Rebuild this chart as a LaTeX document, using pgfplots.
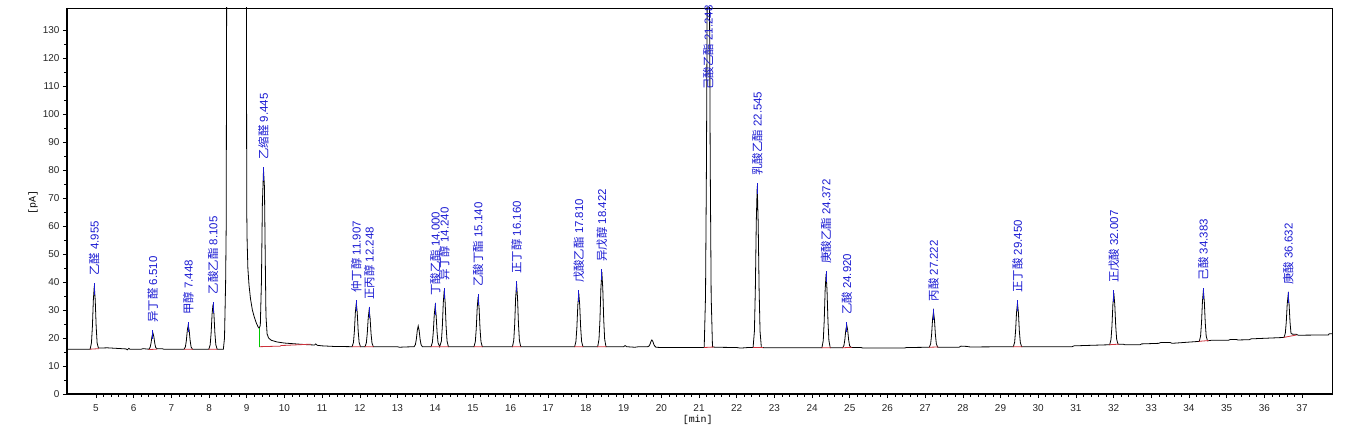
\documentclass[border=0pt]{standalone}
\usepackage{fontspec}
\setmainfont{Liberation Sans}
\newfontfamily\cjk{Noto Sans CJK SC}
\newfontfamily\monof{Liberation Mono}
\usepackage{pgfplots}
\pgfplotsset{compat=1.18}
\usepackage{pgfplotstable}
\definecolor{lblue}{RGB}{25,25,210}
\definecolor{bred}{RGB}{205,50,60}
\definecolor{bgreen}{RGB}{0,200,0}

\pgfplotstableread{
x y
4.231 16.0
4.6 16.0
4.845 16.0
4.88 18.25
4.905 24.1
4.93 33.55
4.955 38.5
4.98 33.55
5.005 24.1
5.03 18.25
5.065 16.4
5.3 16.5
5.55 16.3
5.8 16.1
5.83 15.8
5.87 16.3
5.9 16.0
6.2 16.0
6.25 16.2
6.4 16.0
6.435 16.58
6.46 18.09
6.485 20.52
6.51 21.8
6.535 20.52
6.56 18.09
6.585 16.58
6.62 16.2
6.75 16.2
6.8 16.0
7.338 16.0
7.373 16.86
7.398 19.10
7.423 22.71
7.448 24.6
7.473 22.71
7.498 19.10
7.523 16.86
7.558 16.0
7.995 16.0
8.03 17.6
8.055 21.76
8.08 28.48
8.105 32.0
8.13 28.48
8.155 21.76
8.18 17.6
8.215 16.0
8.38 16.0
8.41 20.0
8.44 40.0
8.455 60.0
8.47 160
8.99 160
9.00 66
9.01 55
9.03 45
9.06 39
9.10 34
9.15 30
9.20 27.5
9.25 25.5
9.30 24.0
9.33 23.5
9.36 24.5
9.39 40
9.415 68
9.445 80
9.47 74
9.49 50
9.51 28
9.54 21.5
9.58 20.0
9.65 19.2
9.8 18.6
10.0 18.2
10.3 17.9
10.5 17.7
10.8 17.5
10.83 17.9
10.87 17.4
11.0 17.2
11.3 17.0
11.797 16.9
11.832 18.46
11.857 22.52
11.882 29.07
11.907 32.5
11.932 29.07
11.957 22.52
11.982 18.46
12.017 16.9
12.138 16.9
12.173 18.21
12.198 21.62
12.223 27.12
12.248 30.0
12.273 27.12
12.298 21.62
12.323 18.21
12.358 16.9
13.0 16.9
13.05 16.7
13.2 16.8
13.44 16.9
13.475 17.64
13.5 19.56
13.525 22.67
13.55 24.3
13.575 22.67
13.6 19.56
13.625 17.64
13.66 16.9
13.89 16.9
13.925 18.35
13.95 22.12
13.975 28.21
14.0 31.4
14.025 28.21
14.05 22.12
14.075 18.35
14.12 16.9
14.165 18.91
14.19 24.14
14.215 32.58
14.24 37.0
14.265 32.58
14.29 24.14
14.315 18.91
14.35 16.9
15.03 16.9
15.065 18.68
15.09 23.31
15.115 30.78
15.14 34.7
15.165 30.78
15.19 23.31
15.215 18.68
15.25 16.9
16.05 16.9
16.085 19.14
16.11 24.96
16.135 34.37
16.16 39.3
16.185 34.37
16.21 24.96
16.235 19.14
16.27 16.9
17.70 16.9
17.735 18.81
17.76 23.78
17.785 31.80
17.81 36.0
17.835 31.80
17.86 23.78
17.885 18.81
17.92 16.9
18.312 16.9
18.347 19.57
18.372 26.51
18.397 37.73
18.422 43.6
18.447 37.73
18.472 26.51
18.497 19.57
18.532 16.9
19.0 16.9
19.04 17.3
19.08 16.9
19.3 16.7
19.4 16.9
19.64 16.9
19.675 17.14
19.70 17.76
19.725 18.77
19.75 19.3
19.775 18.77
19.80 17.76
19.825 17.14
19.86 16.7
20.0 16.6
21.138 16.6
21.173 34.9
21.198 82.5
21.223 159
21.248 200
21.273 159
21.298 82.5
21.323 34.9
21.358 16.8
21.45 16.7
22.0 16.6
22.1 16.4
22.3 16.6
22.435 16.6
22.47 22.37
22.495 37.37
22.52 61.6
22.545 74.3
22.57 61.6
22.595 37.37
22.62 22.37
22.655 16.6
22.8 16.5
24.262 16.5
24.297 19.14
24.322 26.0
24.347 37.09
24.372 42.9
24.397 37.09
24.422 26.0
24.447 19.14
24.482 16.5
24.81 16.5
24.845 17.31
24.87 19.42
24.895 22.82
24.92 24.6
24.945 22.82
24.97 19.42
24.995 17.31
25.03 16.6
25.3 16.6
25.35 16.4
26.45 16.4
26.5 16.6
27.112 16.7
27.147 17.97
27.172 21.27
27.197 26.61
27.222 29.4
27.247 26.61
27.272 21.27
27.297 17.97
27.332 16.7
27.9 16.7
27.95 17.1
28.1 17.0
28.2 16.8
29.34 16.9
29.375 18.46
29.40 22.52
29.425 29.07
29.45 32.5
29.475 29.07
29.50 22.52
29.525 18.46
29.56 16.9
30.9 16.9
30.95 17.2
31.897 17.6
31.932 19.53
31.957 24.29
31.982 31.97
32.007 36.0
32.032 31.97
32.057 24.29
32.082 19.53
32.117 17.8
32.25 17.8
32.3 17.6
32.7 17.6
32.75 17.9
33.2 18.1
33.25 18.4
33.5 18.4
33.55 18.1
34.273 18.8
34.308 20.62
34.333 25.35
34.358 33.0
34.383 37.0
34.408 33.0
34.433 25.35
34.458 20.62
34.493 19.0
34.6 19.2
35.05 19.2
35.1 19.5
35.25 19.5
35.3 19.3
35.6 19.4
35.65 19.7
36.0 19.9
36.522 20.2
36.557 21.72
36.582 25.67
36.607 32.06
36.632 35.4
36.657 32.06
36.682 25.67
36.707 21.72
36.74 21.4
36.85 21.3
36.9 21.0
37.7 21.1
37.72 21.5
37.8 21.5
}\trace

\pgfplotstableread{
x y
4.835 16.0
5.08 16.2
nan nan
6.40 15.9
6.62 16.0
nan nan
7.33 16.0
7.57 16.0
nan nan
7.99 16.0
8.22 16.0
nan nan
9.33 16.9
9.90 17.1
nan nan
9.90 17.3
10.70 17.8
nan nan
11.79 16.9
12.02 16.9
nan nan
12.13 16.9
12.37 16.9
nan nan
13.88 16.9
14.12 16.9
nan nan
14.12 16.9
14.36 16.9
nan nan
15.02 16.9
15.26 16.9
nan nan
16.04 16.9
16.28 16.9
nan nan
17.69 16.9
17.93 16.9
nan nan
18.30 16.9
18.54 16.9
nan nan
21.13 16.6
21.40 16.8
nan nan
22.43 16.6
22.70 16.6
nan nan
24.25 16.5
24.50 16.5
nan nan
24.80 16.5
25.06 16.7
nan nan
27.10 16.7
27.35 16.8
nan nan
29.33 16.9
29.58 16.9
nan nan
31.88 17.6
32.14 17.8
nan nan
34.26 18.8
34.52 19.1
nan nan
36.51 20.2
36.86 21.1
}\redbase

\pgfplotstableread{
x y
4.955 35.5
4.955 39.5
nan nan
6.510 19.8
6.510 22.8
nan nan
7.448 22.0
7.448 25.6
nan nan
8.105 29.0
8.105 33.0
nan nan
9.445 76.0
9.445 81.0
nan nan
11.907 29.5
11.907 33.5
nan nan
12.248 27.0
12.248 31.0
nan nan
14.000 28.4
14.000 32.4
nan nan
14.240 34.0
14.240 38.0
nan nan
15.140 31.7
15.140 35.7
nan nan
16.160 36.3
16.160 40.3
nan nan
17.810 33.0
17.810 37.0
nan nan
18.422 40.6
18.422 44.6
nan nan
22.545 71.3
22.545 75.3
nan nan
24.372 39.9
24.372 43.9
nan nan
24.920 22.0
24.920 25.6
nan nan
27.222 26.4
27.222 30.4
nan nan
29.450 29.5
29.450 33.5
nan nan
32.007 33.0
32.007 37.0
nan nan
34.383 34.0
34.383 38.0
nan nan
36.632 32.4
36.632 36.4
}\bluetick

\begin{document}
\begin{tikzpicture}
\useasboundingbox (-67bp,-41bp) rectangle (1291bp,394bp);
\begin{axis}[
  at={(0,0)}, anchor=south west,
  scale only axis, width=1265bp, height=386bp,
  xmin=4.231, xmax=37.796, ymin=0, ymax=137.9,
  xtick={5,6,...,37}, ytick={0,10,...,130},
  minor x tick num=4, minor y tick num=1,
  tick align=outside, tick pos=left,
  major tick length=4bp, minor tick length=2.5bp,
  every tick/.style={black, line width=0.6bp},
  axis line style={black, line width=0.8bp},
  tick label style={font=\fontsize{10}{12}\selectfont, text=black!85},
  /pgf/number format/assume math mode=true,
  xticklabel style={yshift=-3bp},
  xlabel={[min]}, ylabel={[pA]},
  label style={font=\monof\fontsize{10}{12}\selectfont},
  xlabel style={at={(axis description cs:0.4986,0)}, anchor=center, yshift=-26bp},
  ylabel style={at={(axis description cs:-0.0269,0.495)}, anchor=center},
  unbounded coords=jump,
]
\addplot[black, line width=0.8bp] table[x=x,y=y] {\trace};
\addplot[bred, line width=0.8bp] table[x=x,y=y] {\redbase};
\addplot[bgreen, line width=0.8bp] coordinates {(9.33,16.9) (9.33,23.5)};
\addplot[lblue, line width=0.8bp] table[x=x,y=y] {\bluetick};
\addplot[only marks, mark=*, mark size=0bp, mark options={draw=none,fill=none},
  point meta=explicit symbolic, nodes near coords,
  nodes near coords style={rotate=90, anchor=west, inner sep=0pt,
    font=\fontsize{11.5}{13}\selectfont, text=lblue}]
coordinates {
(4.955,42.1) [{\cjk 乙醛} 4.955]
(6.510,25.4) [{\cjk 异丁醛} 6.510]
(7.448,28.2) [{\cjk 甲醇} 7.448]
(8.105,35.6) [{\cjk 乙酸乙酯} 8.105]
(9.445,83.6) [{\cjk 乙缩醛} 9.445]
(11.907,36.1) [{\cjk 仲丁醇} 11.907]
(12.248,33.6) [{\cjk 正丙醇} 12.248]
(14.000,35.0) [{\cjk 丁酸乙酯} 14.000]
(14.240,40.6) [{\cjk 异丁醇} 14.240]
(15.140,38.3) [{\cjk 乙酸丁酯} 15.140]
(16.160,42.9) [{\cjk 正丁醇} 16.160]
(17.810,39.6) [{\cjk 戊酸乙酯} 17.810]
(18.422,47.2) [{\cjk 异戊醇} 18.422]
(21.248,108.7) [{\cjk 己酸乙酯} 21.248]
(22.545,77.9) [{\cjk 乳酸乙酯} 22.545]
(24.372,46.5) [{\cjk 庚酸乙酯} 24.372]
(24.920,28.2) [{\cjk 乙酸} 24.920]
(27.222,33.0) [{\cjk 丙酸} 27.222]
(29.450,36.1) [{\cjk 正丁酸} 29.450]
(32.007,39.6) [{\cjk 正戊酸} 32.007]
(34.383,40.6) [{\cjk 己酸} 34.383]
(36.632,39.0) [{\cjk 庚酸} 36.632]
};
\end{axis}
\draw[black, line width=2bp] (0,386bp) -- (0,0) -- (1266bp,0);
\end{tikzpicture}
\end{document}
